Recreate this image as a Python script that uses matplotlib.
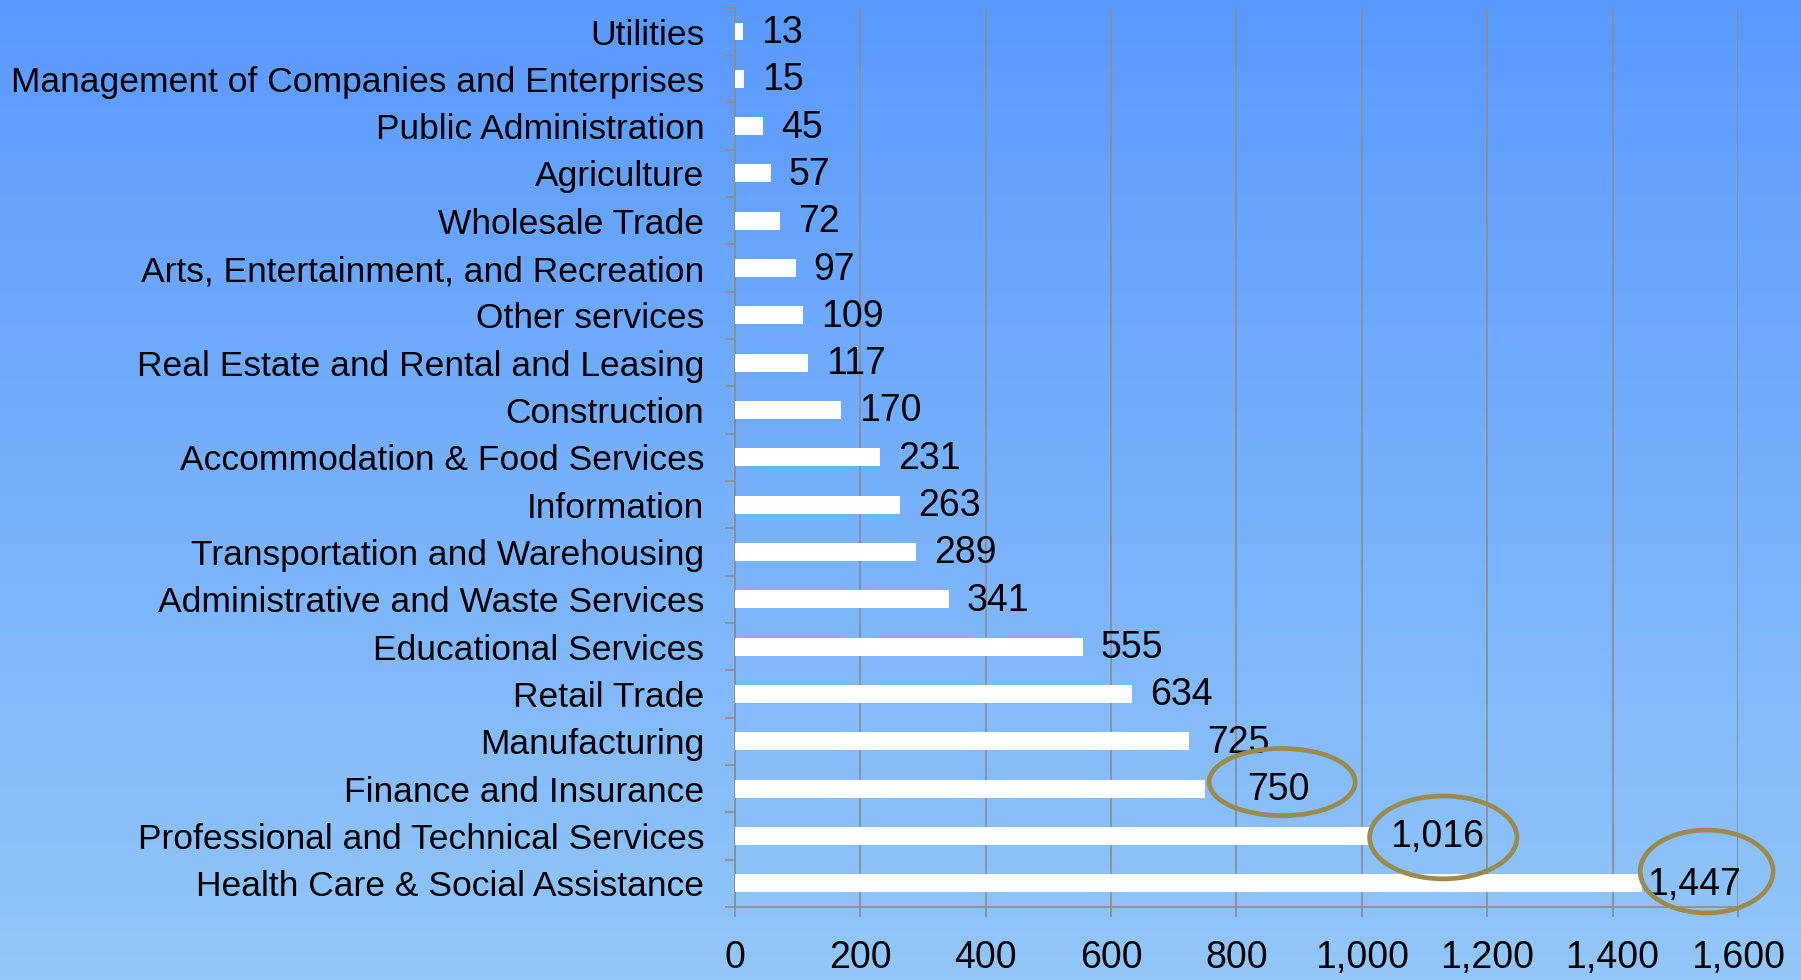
import numpy as np
import matplotlib
matplotlib.use("Agg")
import matplotlib.pyplot as plt
from matplotlib.patches import Ellipse
from matplotlib.colors import LinearSegmentedColormap

# industries, top to bottom as in the chart
industries = [
    "Utilities",
    "Management of Companies and Enterprises",
    "Public Administration",
    "Agriculture",
    "Wholesale Trade",
    "Arts, Entertainment, and Recreation",
    "Other services",
    "Real Estate and Rental and Leasing",
    "Construction",
    "Accommodation & Food Services",
    "Information",
    "Transportation and Warehousing",
    "Administrative and Waste Services",
    "Educational Services",
    "Retail Trade",
    "Manufacturing",
    "Finance and Insurance",
    "Professional and Technical Services",
    "Health Care & Social Assistance",
]
counts = [13, 15, 45, 57, 72, 97, 109, 117, 170, 231, 263, 289, 341,
          555, 634, 725, 750, 1016, 1447]
x_ticks = [0, 200, 400, 600, 800, 1000, 1200, 1400, 1600]
highlighted = ["Finance and Insurance",
               "Professional and Technical Services",
               "Health Care & Social Assistance"]

LABEL_FONT = ["Liberation Sans", "DejaVu Sans"]
NUM_FONT = ["Liberation Sans", "DejaVu Sans"]
GRID = "#8c8c8c"
RING = "#9c8a4a"

fig = plt.figure(figsize=(18.01, 9.8), dpi=100)

# -------- background gradient --------
bg = fig.add_axes([0, 0, 1, 1], zorder=-10)
cmap = LinearSegmentedColormap.from_list("bg", ["#5a9aff", "#93c7f8"])
bg.imshow(np.linspace(0, 1, 256).reshape(-1, 1), aspect="auto",
          cmap=cmap, extent=[0, 1, 0, 1])
bg.axis("off")

ax = fig.add_axes([0.408, 0.0745, 0.557, 0.9175])
ax.patch.set_alpha(0)

n = len(industries)
y = np.arange(n)[::-1]  # first item at top

ax.barh(y, counts, height=0.38, color="white", zorder=3)

# value labels (a few nudged, as in the original)
nudge = {"Finance and Insurance": 30, "Health Care & Social Assistance": 4}
for name, yi, v in zip(industries, y, counts):
    off = nudge.get(name, 13)
    ax.annotate(f"{v:,}", (v, yi), xytext=(off, -1), textcoords="offset points",
                va="center", ha="left", fontsize=27, family=NUM_FONT, zorder=5)

# rings around the top three
ring_size = {"Finance and Insurance": (233, 1.42, 123, 0.14),
             "Professional and Technical Services": (235, 1.75, 114, -0.03),
             "Health Care & Social Assistance": (212, 1.75, 103, 0.25)}
for name in highlighted:
    i = industries.index(name)
    w, h, dx, dy = ring_size[name]
    ax.add_patch(Ellipse((counts[i] + dx, y[i] + dy), w, h, fill=False,
                         edgecolor=RING, linewidth=3.4, zorder=6, clip_on=False))

ax.set_xlim(0, 1600)
ax.set_ylim(-0.5, n - 0.5)

ax.set_xticks(x_ticks)
ax.set_xticklabels([f"{t:,}" for t in x_ticks], family=NUM_FONT, fontsize=27)
ax.tick_params(axis="x", direction="out", length=7, width=1.2, color=GRID, pad=17)

# ticks between categories, labels at the centres
ax.set_yticks(np.arange(-0.5, n, 1.0))
ax.set_yticklabels([])
ax.tick_params(axis="y", which="major", direction="out", length=7, width=1.2, color=GRID)
ax.set_yticks(y, minor=True)
ax.set_yticklabels(industries, minor=True, family=LABEL_FONT, fontsize=25.5)
ax.tick_params(axis="y", which="minor", length=0, pad=22)

ax.grid(axis="x", color=GRID, linewidth=1.2, zorder=0)
ax.set_axisbelow(True)
for side in ["top", "right"]:
    ax.spines[side].set_visible(False)
for side in ["left", "bottom"]:
    ax.spines[side].set_color(GRID)
    ax.spines[side].set_linewidth(1.2)

fig.savefig("out.png", dpi=100)
